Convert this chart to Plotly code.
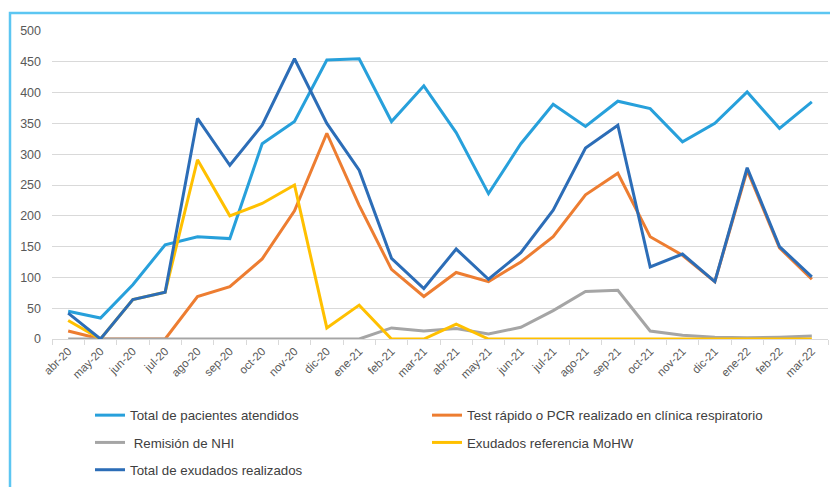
import plotly.graph_objects as go

months = ["abr-20", "may-20", "jun-20", "jul-20", "ago-20", "sep-20", "oct-20", "nov-20",
          "dic-20", "ene-21", "feb-21", "mar-21", "abr-21", "may-21", "jun-21", "jul-21",
          "ago-21", "sep-21", "oct-21", "nov-21", "dic-21", "ene-22", "feb-22", "mar-22"]

pacientes = [45, 34, 88, 153, 166, 163, 317, 353, 453, 455, 353, 411,
             335, 236, 317, 381, 345, 386, 374, 320, 350, 401, 342, 385]
test_rapido = [13, 0, 0, 0, 69, 85, 130, 208, 334, 217, 113, 69,
               108, 93, 125, 166, 234, 269, 166, 136, 93, 274, 148, 97]
remision = [0, 0, 0, 0, 0, 0, 0, 0, 0, 0, 18, 13,
            17, 8, 19, 46, 77, 79, 13, 6, 3, 2, 3, 5]
exudados_ref = [30, 0, 64, 76, 291, 200, 220, 250, 18, 55, 0, 0,
                24, 0, 0, 0, 0, 0, 0, 0, 0, 0, 0, 0]
total_exudados = [42, 0, 64, 76, 358, 282, 347, 455, 350, 274, 131, 82,
                  146, 97, 140, 209, 310, 347, 117, 138, 93, 278, 150, 101]

series = [
    ("Total de pacientes atendidos", pacientes, "#27A0DB", "legend", "g1"),
    ("Test rápido o PCR realizado en clínica respiratorio", test_rapido, "#ED7D31", "legend2", "g2"),
    (" Remisión de NHI", remision, "#A5A5A5", "legend", "g3"),
    ("Exudados referencia MoHW", exudados_ref, "#FFC000", "legend2", "g4"),
    ("Total de exudados realizados", total_exudados, "#2C6DB7", "legend", "g5"),
]

fig = go.Figure()
for name, vals, color, leg, grp in series:
    fig.add_trace(go.Scatter(
        x=months, y=vals, name=name, mode="lines",
        line=dict(color=color, width=3),
        legend=leg, legendgroup=grp,
    ))

# page body has an 8px margin; figure is sized so it ends at the window edge
OFF = 8
W, H = 838 - OFF, 487 - OFF
ml, mr, mt, mb = 52 - OFF, 10, 31 - OFF, 148
pw, ph = W - ml - mr, H - mt - mb

def px_x(p):
    return (p - OFF - ml) / pw

def px_y(p):
    return (H - mb - (p - OFF)) / ph

legend_font = dict(family="Liberation Sans, Arial", size=13.3, color="#404040")

fig.update_layout(
    width=W, height=H,
    margin=dict(l=ml, r=mr, t=mt, b=mb, autoexpand=False),
    plot_bgcolor="white", paper_bgcolor="white",
    font=dict(family="Liberation Sans, Arial", color="#595959"),
    xaxis=dict(
        type="category", range=[-0.5, 23.5],
        tickangle=-45, tickfont=dict(size=11.5, color="#595959"),
        showgrid=False, showline=True, linecolor="#D9D9D9", linewidth=1,
        ticks="outside", tickson="boundaries", ticklen=5, tickcolor="#D9D9D9",
        zeroline=False, automargin=False,
    ),
    yaxis=dict(
        range=[0, 500], dtick=50, tick0=0,
        tickfont=dict(size=12.5, color="#595959"),
        showgrid=True, gridcolor="#D9D9D9", gridwidth=1,
        zeroline=False, showline=False, ticklabelstandoff=10, automargin=False,
    ),
    legend=dict(
        xref="container", yref="container",
        x=(90 - OFF) / W, y=(H - (400 - OFF)) / H, xanchor="left", yanchor="top",
        orientation="v", font=legend_font, tracegroupgap=7,
        bgcolor="rgba(0,0,0,0)",
    ),
    legend2=dict(
        xref="container", yref="container",
        x=(427 - OFF) / W, y=(H - (400 - OFF)) / H, xanchor="left", yanchor="top",
        orientation="v", font=legend_font, tracegroupgap=7,
        bgcolor="rgba(0,0,0,0)",
    ),
    showlegend=True,
    shapes=[
        dict(type="path", xref="paper", yref="paper",
             path=f"M {px_x(10)},{px_y(495)} L {px_x(10)},{px_y(13)} L {px_x(845)},{px_y(13)}",
             line=dict(color="#5CC6F2", width=2.5), layer="above"),
    ],
)

fig.write_html("out.html")
